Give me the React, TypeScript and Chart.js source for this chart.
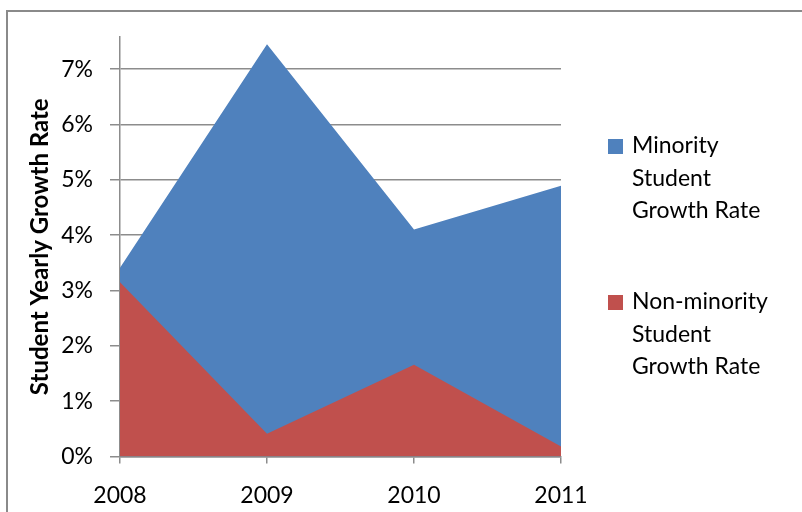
import React, { useEffect, useRef } from "react";
import { Chart, registerables } from "chart.js";

Chart.register(...registerables);

const years = ["2008", "2009", "2010", "2011"];
const minorityRates = [3.41, 7.45, 4.1, 4.89];
const nonMinorityRates = [3.15, 0.41, 1.66, 0.18];
const seriesLabels = [
  ["Minority", "Student", "Growth Rate"],
  ["Non-minority", "Student", "Growth Rate"],
];
const seriesColors = ["#4F81BD", "#C0504D"];
const yAxisTitle = "Student Yearly Growth Rate";
const yMax = 7.58;
const yStep = 1;

const FONT = "Lato, 'Open Sans', sans-serif";
const GRID = "#8c8c8c";

export default function App() {
  const ref = useRef<HTMLCanvasElement | null>(null);

  useEffect(() => {
    if (!ref.current) return;
    const chart = new Chart(ref.current, {
      type: "line",
      data: {
        labels: years,
        datasets: [
          {
            label: seriesLabels[0].join(" "),
            data: minorityRates,
            backgroundColor: seriesColors[0],
            borderColor: "rgba(0,0,0,0)",
            borderWidth: 0,
            pointRadius: 0,
            fill: "origin",
            tension: 0,
            order: 2,
          },
          {
            label: seriesLabels[1].join(" "),
            data: nonMinorityRates,
            backgroundColor: seriesColors[1],
            borderColor: "rgba(0,0,0,0)",
            borderWidth: 0,
            pointRadius: 0,
            fill: "origin",
            tension: 0,
            order: 1,
          },
        ],
      },
      options: {
        animation: false,
        responsive: true,
        maintainAspectRatio: false,
        devicePixelRatio: 1,
        layout: { padding: { top: 37, right: 802 - 561, left: 0, bottom: 0 } },
        plugins: {
          legend: { display: false },
          tooltip: { enabled: false },
        },
        scales: {
          x: {
            type: "category",
            offset: false,
            grid: {
              display: true,
              drawOnChartArea: false,
              drawTicks: true,
              tickLength: 7,
              color: GRID,
              lineWidth: 1.5,
            },
            border: { display: true, color: GRID, width: 1.5 },
            ticks: {
              color: "#000",
              font: { family: FONT, size: 23 },
              padding: 18,
              maxRotation: 0,
              autoSkip: false,
            },
            afterFit: (s: any) => {
              s.height = 512 - 456.5;
            },
          },
          y: {
            min: 0,
            max: yMax,
            grid: {
              color: GRID,
              lineWidth: 1.5,
              tickLength: 10,
              drawTicks: true,
            },
            border: { display: true, color: GRID, width: 1.5 },
            ticks: {
              stepSize: yStep,
              includeBounds: false,
              color: "#000",
              font: { family: FONT, size: 23 },
              padding: 17,
              callback: (v: any) => v + "%",
            },
            title: {
              display: true,
              text: yAxisTitle,
              color: "#000",
              font: { family: FONT, size: 24, weight: "bold" },
              padding: { top: 26, bottom: 0 },
            },
            afterFit: (s: any) => {
              s.width = 120;
            },
          },
        },
      },
    });
    return () => chart.destroy();
  }, []);

  const legendTops = [128, 284];

  return (
    <div
      style={{
        position: "absolute",
        left: 0,
        top: 0,
        width: 802,
        height: 512,
        overflow: "hidden",
        background: "#fff",
      }}
    >
      <div
        style={{
          position: "absolute",
          left: 6,
          top: 10,
          width: 2000,
          height: 2000,
          border: "2px solid #8a8a8a",
        }}
      />
      <div style={{ position: "absolute", left: 0, top: 0, width: 802, height: 512 }}>
        <canvas ref={ref} />
      </div>
      {seriesLabels.map((lines, i) => (
        <div key={i}>
          <div
            style={{
              position: "absolute",
              left: 608,
              top: legendTops[i] + 10.5,
              width: 15,
              height: 15,
              background: seriesColors[i],
            }}
          />
          <div
            style={{
              position: "absolute",
              left: 632,
              top: legendTops[i],
              fontFamily: FONT,
              fontSize: 23,
              lineHeight: "32.5px",
              color: "#000",
              whiteSpace: "nowrap",
            }}
          >
            {lines.map((l, j) => (
              <div key={j}>{l}</div>
            ))}
          </div>
        </div>
      ))}
    </div>
  );
}
